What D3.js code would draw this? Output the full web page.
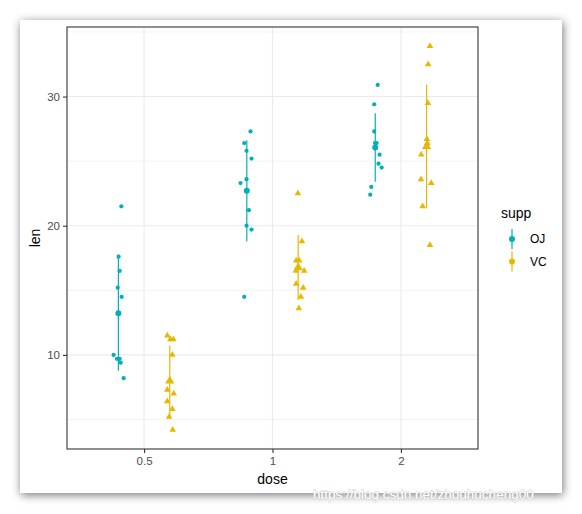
<!DOCTYPE html>
<html>
<head>
<meta charset="utf-8">
<script src="https://cdn.jsdelivr.net/npm/d3@7"></script>
<style>
  html, body { margin: 0; padding: 0; background: #ffffff; }
  svg { display: block; }
  text { font-family: "Liberation Sans", Arial, sans-serif; }
</style>
</head>
<body>
<svg id="chart" width="582" height="514"></svg>
<script>
// ---- data (ToothGrowth) ----
const doses = ["0.5", "1", "2"];
const supps = ["OJ", "VC"];
const colors = ["#00AFBB", "#E7B800"];
const yTicks = [10, 20, 30];
const yMinor = [5, 15, 25, 35];

const lenOJ_05 = [15.2, 21.5, 17.6, 9.7, 14.5, 10.0, 8.2, 9.4, 16.5, 9.7];
const lenOJ_1  = [19.7, 23.3, 23.6, 26.4, 20.0, 25.2, 25.8, 21.2, 14.5, 27.3];
const lenOJ_2  = [25.5, 26.4, 22.4, 24.5, 24.8, 30.9, 26.4, 27.3, 29.4, 23.0];
const lenVC_05 = [4.2, 11.5, 7.3, 5.8, 6.4, 10.0, 11.2, 11.2, 5.2, 7.0];
const lenVC_1  = [16.5, 16.5, 15.2, 17.3, 22.5, 17.3, 13.6, 14.5, 18.8, 15.5];
const lenVC_2  = [23.6, 18.5, 33.9, 25.5, 26.4, 32.5, 26.7, 21.5, 23.3, 29.5];

// horizontal jitter of each point (in dose-category units)
const jitOJ_05 = [-0.005, 0.023, 0.002, -0.011, 0.026, -0.037, 0.041, 0.018, 0.010, 0.010];
const jitOJ_1  = [0.037, -0.049, -0.002, -0.020, -0.002, 0.037, -0.002, 0.016, -0.020, 0.029];
const jitOJ_2  = [0.034, 0.011, -0.039, 0.050, 0.026, 0.019, -0.002, -0.008, -0.008, -0.031];
const jitVC_05 = [0.023, -0.019, -0.019, 0.020, -0.019, 0.020, 0.005, 0.028, -0.005, 0.031];
const jitVC_1  = [-0.018, 0.047, 0.039, -0.016, -0.002, 0.008, 0.005, 0.021, 0.029, -0.016];
const jitVC_2  = [-0.044, 0.026, 0.026, -0.042, 0.005, 0.012, 0.002, -0.031, 0.036, 0.010];

const groups = [
  {supp: "OJ", dose: "0.5", len: lenOJ_05, jit: jitOJ_05},
  {supp: "OJ", dose: "1",   len: lenOJ_1,  jit: jitOJ_1},
  {supp: "OJ", dose: "2",   len: lenOJ_2,  jit: jitOJ_2},
  {supp: "VC", dose: "0.5", len: lenVC_05, jit: jitVC_05},
  {supp: "VC", dose: "1",   len: lenVC_1,  jit: jitVC_1},
  {supp: "VC", dose: "2",   len: lenVC_2,  jit: jitVC_2}
];

// ---- layout ----
const svg = d3.select("#chart");
const panel = {left: 67, top: 27, right: 478, bottom: 449};

// frame with shadow
const defs = svg.append("defs");
const f = defs.append("filter").attr("id", "shadow")
  .attr("x", "-10%").attr("y", "-10%").attr("width", "120%").attr("height", "120%");
f.append("feDropShadow").attr("dx", 1).attr("dy", 2).attr("stdDeviation", 5)
  .attr("flood-color", "#000").attr("flood-opacity", 0.55);
svg.append("rect").attr("x", 20).attr("y", 20).attr("width", 542).attr("height", 473)
  .attr("fill", "#fff").attr("filter", "url(#shadow)");

const allLen = groups.flatMap(g => g.len);
const ext = d3.extent(allLen);
const pad = (ext[1] - ext[0]) * 0.05;
const y = d3.scaleLinear().domain([ext[0] - pad, ext[1] + pad]).range([panel.bottom, panel.top]);
const x = d3.scalePoint().domain(doses).range([panel.left, panel.right]).padding(0.6);
const step = x.step();
const dodge = d3.scaleOrdinal().domain(supps).range([-0.2, 0.2]);
const color = d3.scaleOrdinal().domain(supps).range(colors);

// grid
const grid = svg.append("g");
grid.selectAll("line.minor").data(yMinor.filter(v => y(v) > panel.top && y(v) < panel.bottom)).join("line")
  .attr("x1", panel.left).attr("x2", panel.right)
  .attr("y1", d => y(d)).attr("y2", d => y(d))
  .attr("stroke", "#EBEBEB").attr("stroke-width", 0.6);
grid.selectAll("line.majory").data(yTicks).join("line")
  .attr("x1", panel.left).attr("x2", panel.right)
  .attr("y1", d => y(d)).attr("y2", d => y(d))
  .attr("stroke", "#EBEBEB").attr("stroke-width", 1.1);
grid.selectAll("line.majorx").data(doses).join("line")
  .attr("y1", panel.top).attr("y2", panel.bottom)
  .attr("x1", d => x(d)).attr("x2", d => x(d))
  .attr("stroke", "#EBEBEB").attr("stroke-width", 1.1);

// marks
const tri = d3.symbol().type(d3.symbolTriangle);
function drawShape(sel, supp, size) {
  if (supp === "OJ") {
    sel.append("circle").attr("r", Math.sqrt(size / Math.PI)).attr("fill", color(supp));
  } else {
    sel.append("path").attr("d", tri.size(size)()).attr("fill", color(supp));
  }
}

const marks = svg.append("g");
groups.forEach(g => {
  const cx = x(g.dose) + dodge(g.supp) * step;
  const m = d3.mean(g.len), sd = d3.deviation(g.len);
  // error bar
  marks.append("line")
    .attr("x1", cx).attr("x2", cx)
    .attr("y1", y(m - sd)).attr("y2", y(m + sd))
    .attr("stroke", color(g.supp)).attr("stroke-width", 1.2);
  // jittered points
  g.len.forEach((v, i) => {
    const pg = marks.append("g")
      .attr("transform", `translate(${cx + g.jit[i] * step},${y(v)})`);
    drawShape(pg, g.supp, g.supp === "OJ" ? 14 : 19);
  });
  // mean point
  const mg = marks.append("g").attr("transform", `translate(${cx},${y(m)})`);
  drawShape(mg, g.supp, g.supp === "OJ" ? 28 : 36);
});

// panel border
svg.append("rect")
  .attr("x", panel.left).attr("y", panel.top)
  .attr("width", panel.right - panel.left).attr("height", panel.bottom - panel.top)
  .attr("fill", "none").attr("stroke", "#333333").attr("stroke-width", 1.1);

// axes
const yAxis = svg.append("g").attr("transform", `translate(${panel.left},0)`)
  .call(d3.axisLeft(y).tickValues(yTicks).tickSize(4).tickPadding(3).tickFormat(d3.format("d")));
const xAxis = svg.append("g").attr("transform", `translate(0,${panel.bottom})`)
  .call(d3.axisBottom(x).tickSize(4).tickPadding(4));
[yAxis, xAxis].forEach(a => {
  a.select(".domain").remove();
  a.selectAll(".tick line").attr("stroke", "#333333").attr("stroke-width", 1.1);
  a.selectAll(".tick text").attr("fill", "#4D4D4D").attr("font-size", 11.5)
    .attr("font-family", "Liberation Sans, Arial, sans-serif");
});

// axis titles
svg.append("text").attr("x", (panel.left + panel.right) / 2).attr("y", 484)
  .attr("text-anchor", "middle").attr("font-size", 14).attr("fill", "#000").text("dose");
svg.append("text").attr("transform", `translate(40,${(panel.top + panel.bottom) / 2}) rotate(-90)`)
  .attr("text-anchor", "middle").attr("font-size", 14).attr("fill", "#000").text("len");

// legend
const leg = svg.append("g");
leg.append("text").attr("x", 501).attr("y", 218).attr("font-size", 14).attr("fill", "#000").text("supp");
supps.forEach((s, i) => {
  const cy = 239 + i * 22.5;
  leg.append("line").attr("x1", 512).attr("x2", 512).attr("y1", cy - 10).attr("y2", cy + 10)
    .attr("stroke", color(s)).attr("stroke-width", 1.2);
  leg.append("circle").attr("cx", 512).attr("cy", cy).attr("r", 3).attr("fill", color(s));
  leg.append("text").attr("x", 530).attr("y", cy + 4.3).attr("font-size", 12).attr("fill", "#000").text(s);
});

// watermark
svg.append("text").attr("x", 313).attr("y", 499).attr("font-size", 13.5)
  .attr("fill", "#ffffff").attr("stroke", "#c8c8c8").attr("stroke-width", 0.8)
  .attr("paint-order", "stroke").text("https://blog.csdn.net/zhouhucheng00");
</script>
</body>
</html>
